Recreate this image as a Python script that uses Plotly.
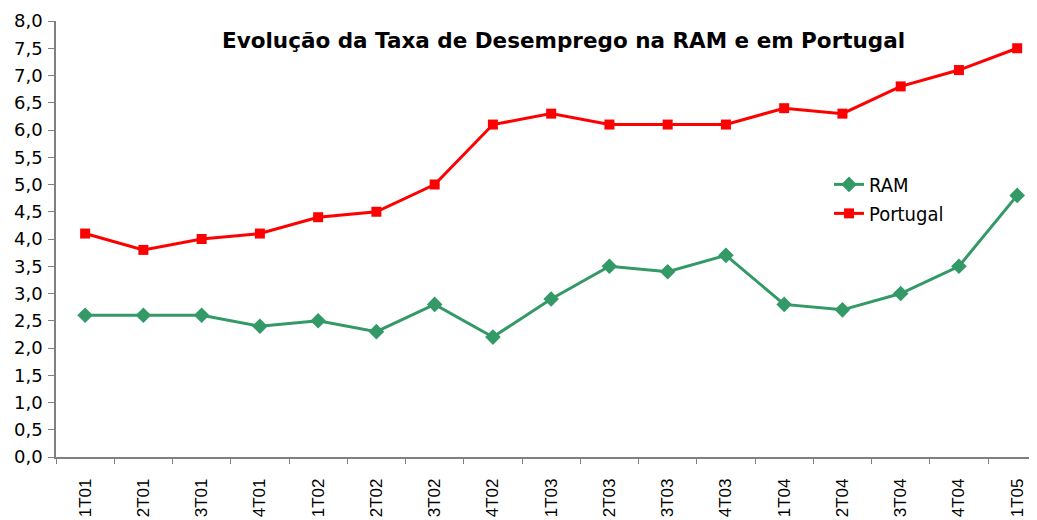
import plotly.graph_objects as go

categories = ["1T01", "2T01", "3T01", "4T01", "1T02", "2T02", "3T02", "4T02",
              "1T03", "2T03", "3T03", "4T03", "1T04", "2T04", "3T04", "4T04", "1T05"]
ram = [2.6, 2.6, 2.6, 2.4, 2.5, 2.3, 2.8, 2.2, 2.9, 3.5, 3.4, 3.7, 2.8, 2.7, 3.0, 3.5, 4.8]
portugal = [4.1, 3.8, 4.0, 4.1, 4.4, 4.5, 5.0, 6.1, 6.3, 6.1, 6.1, 6.1, 6.4, 6.3, 6.8, 7.1, 7.5]
y_ticks = [0, 0.5, 1, 1.5, 2, 2.5, 3, 3.5, 4, 4.5, 5, 5.5, 6, 6.5, 7, 7.5, 8]
y_labels = [f"{v:.1f}".replace(".", ",") for v in y_ticks]
title = "Evolução da Taxa de Desemprego na RAM e em Portugal"

fig = go.Figure()
fig.add_trace(go.Scatter(x=categories, y=ram, name="RAM", mode="lines+markers",
                         line=dict(color="#339966", width=3),
                         marker=dict(symbol="diamond", size=12, color="#339966")))
fig.add_trace(go.Scatter(x=categories, y=portugal, name="Portugal", mode="lines+markers",
                         line=dict(color="#FF0000", width=3),
                         marker=dict(symbol="square", size=10, color="#FF0000")))

# plot area: page x 56..1037, y 21..457 (page body has an 8px margin)
fig.update_layout(
    width=1037, height=520,
    margin=dict(l=48, r=8, t=13, b=71, autoexpand=False),
    paper_bgcolor="white", plot_bgcolor="white",
    showlegend=True,
    legend=dict(x=0.788, y=0.67, xanchor="left", yanchor="top",
                font=dict(family="DejaVu Sans Condensed, DejaVu Sans", size=20, color="black"),
                bgcolor="rgba(0,0,0,0)", tracegroupgap=0),
    annotations=[dict(text="<b>" + title + "</b>", xref="paper", yref="paper",
                      x=(555 - 48) / 981, y=(449 - 32) / 436, xanchor="center", yanchor="middle",
                      showarrow=False,
                      font=dict(family="DejaVu Sans", size=21.5, color="black"))],
)
fig.update_xaxes(type="category", range=[-0.5, 16.34], showgrid=False, automargin=False,
                 showline=True, linecolor="#808080", linewidth=1.5,
                 ticks="outside", ticklen=5, tickcolor="#808080", tickson="boundaries",
                 tickangle=-90, ticklabelstandoff=13,
                 tickfont=dict(family="Liberation Sans, Arial", size=17, color="black"))
fig.update_yaxes(range=[0, 8], tickvals=y_ticks, ticktext=y_labels, showgrid=False, automargin=False,
                 showline=True, linecolor="#808080", linewidth=1.5, zeroline=False,
                 ticks="outside", ticklen=6, tickcolor="#808080", ticklabelstandoff=2,
                 tickfont=dict(family="DejaVu Sans, Verdana", size=18, color="black"))

fig.write_html("out.html")
